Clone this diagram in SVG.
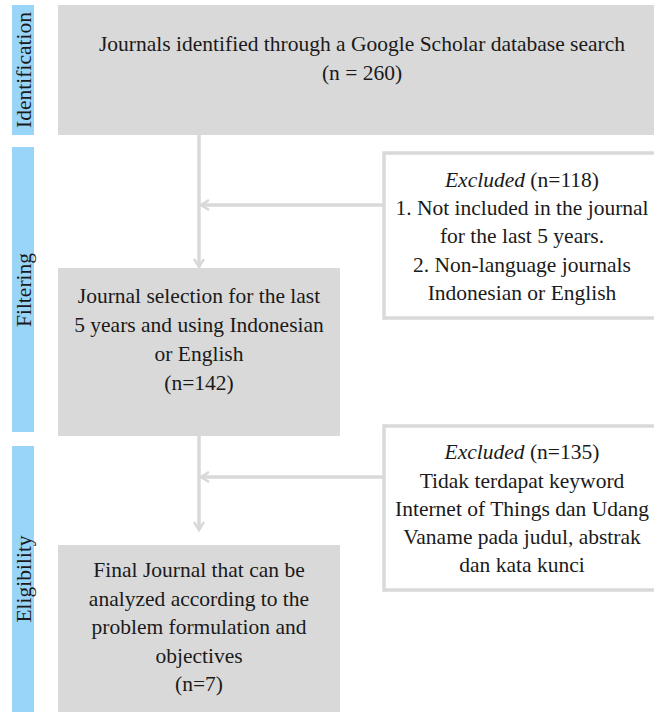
<svg xmlns="http://www.w3.org/2000/svg" width="654" height="712" viewBox="0 0 654 712">
<style>
.side{fill:#99d5f8}
.gray{fill:#d9d9d9}
.exc{fill:#ffffff;stroke:#d9d9d9;stroke-width:3.5}
.t{font-family:"Liberation Serif","Times New Roman",serif;font-size:21.5px;fill:#1a1a1a;text-anchor:middle;dominant-baseline:central}
.conn{stroke:#d9d9d9;stroke-width:3.5;fill:none}
</style>
<defs>
<marker id="arr" viewBox="0 0 12 12" refX="10" refY="6" markerWidth="12" markerHeight="12" markerUnits="userSpaceOnUse" orient="auto">
<path d="M2,1 L10,6 L2,11" fill="none" stroke="#d9d9d9" stroke-width="2.5"/>
</marker>
</defs>
<rect width="654" height="712" fill="#ffffff"/>
<g id="stage-identification">
<rect class="side" x="12" y="5" width="22" height="130"/>
<text class="t" transform="translate(24,70) rotate(-90)">Identification</text>
</g>
<g id="stage-filtering">
<rect class="side" x="12" y="147" width="22" height="285"/>
<text class="t" transform="translate(24,290) rotate(-90)">Filtering</text>
</g>
<g id="stage-eligibility">
<rect class="side" x="12" y="446" width="22" height="266"/>
<text class="t" transform="translate(24,579) rotate(-90)">Eligibility</text>
</g>
<g id="connectors">
<line class="conn" x1="199" y1="135" x2="199" y2="267" marker-end="url(#arr)"/>
<line class="conn" x1="383" y1="205" x2="201" y2="205" marker-end="url(#arr)"/>
<line class="conn" x1="199" y1="436" x2="199" y2="530" marker-end="url(#arr)"/>
<line class="conn" x1="383" y1="477" x2="201" y2="477" marker-end="url(#arr)"/>
</g>
<g id="node-identified">
<rect class="gray" x="58" y="5" width="610" height="130"/>
<text class="t" x="362" y="44">Journals identified through a Google Scholar database search</text>
<text class="t" x="362" y="73">(n = 260)</text>
</g>
<g id="node-excluded1">
<rect class="exc" x="384" y="153" width="280" height="165"/>
<text class="t" x="522" y="180"><tspan font-style="italic">Excluded</tspan> (n=118)</text>
<text class="t" x="522" y="208">1. Not included in the journal</text>
<text class="t" x="522" y="236">for the last 5 years.</text>
<text class="t" x="522" y="265">2. Non-language journals</text>
<text class="t" x="522" y="293">Indonesian or English</text>
</g>
<g id="node-selection">
<rect class="gray" x="58" y="268" width="282" height="168"/>
<text class="t" x="199" y="296">Journal selection for the last</text>
<text class="t" x="199" y="325">5 years and using Indonesian</text>
<text class="t" x="199" y="354">or English</text>
<text class="t" x="199" y="383">(n=142)</text>
</g>
<g id="node-excluded2">
<rect class="exc" x="384" y="426" width="280" height="164"/>
<text class="t" x="522" y="452"><tspan font-style="italic">Excluded</tspan> (n=135)</text>
<text class="t" x="522" y="481">Tidak terdapat keyword</text>
<text class="t" x="522" y="509">Internet of Things dan Udang</text>
<text class="t" x="522" y="537">Vaname pada judul, abstrak</text>
<text class="t" x="522" y="565">dan kata kunci</text>
</g>
<g id="node-final">
<rect class="gray" x="58" y="545" width="282" height="167"/>
<text class="t" x="199" y="570">Final Journal that can be</text>
<text class="t" x="199" y="599">analyzed according to the</text>
<text class="t" x="199" y="627">problem formulation and</text>
<text class="t" x="199" y="656">objectives</text>
<text class="t" x="199" y="684">(n=7)</text>
</g>
</svg>
